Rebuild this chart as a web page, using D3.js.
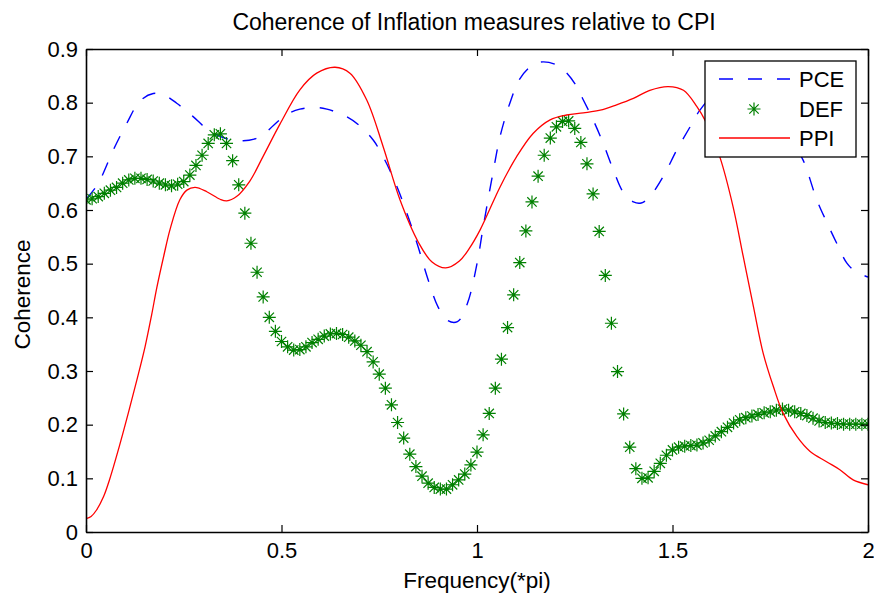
<!DOCTYPE html>
<html>
<head>
<meta charset="utf-8">
<script src="https://cdn.jsdelivr.net/npm/d3@7"></script>
<style>
html,body{margin:0;padding:0;background:#fff;}
svg text{font-family:"Liberation Sans",Arial,Helvetica,sans-serif;fill:#000;}
</style>
</head>
<body>
<svg id="chart" width="874" height="599"></svg>
<script>
// ---- data ----
const title = "Coherence of Inflation measures relative to CPI";
const xLabel = "Frequency(*pi)";
const yLabel = "Coherence";
const xTicks = [0, 0.5, 1, 1.5, 2];
const yTicks = [0, 0.1, 0.2, 0.3, 0.4, 0.5, 0.6, 0.7, 0.8, 0.9];
const seriesNames = ["PCE", "DEF", "PPI"];

const pceX = [0,0.03,0.07,0.104,0.138,0.172,0.2,0.232,0.274,0.309,0.34,0.37,0.402,0.43,0.453,0.48,0.513,0.547,0.59,0.616,0.667,0.7,0.735,0.76,0.777,0.8,0.825,0.85,0.875,0.9,0.925,0.95,0.975,1.0,1.016,1.042,1.059,1.084,1.11,1.144,1.169,1.204,1.23,1.255,1.272,1.297,1.323,1.349,1.374,1.4,1.42,1.442,1.476,1.511,1.545,1.57,1.62,1.67,1.72,1.77,1.8,1.834,1.869,1.894,1.92,1.946,1.967,2.0];
const pceY = [0.620,0.648,0.712,0.761,0.803,0.817,0.814,0.799,0.774,0.751,0.738,0.731,0.729,0.732,0.740,0.758,0.778,0.788,0.791,0.788,0.774,0.757,0.730,0.699,0.674,0.635,0.585,0.530,0.470,0.420,0.394,0.392,0.425,0.500,0.569,0.674,0.737,0.799,0.845,0.871,0.876,0.870,0.855,0.830,0.805,0.768,0.724,0.674,0.633,0.615,0.613,0.625,0.662,0.712,0.755,0.786,0.825,0.835,0.815,0.770,0.735,0.693,0.619,0.578,0.538,0.501,0.486,0.475];

const ppiX = [0,0.013,0.027,0.045,0.06,0.085,0.108,0.13,0.151,0.168,0.181,0.2,0.215,0.24,0.258,0.279,0.309,0.343,0.36,0.385,0.419,0.453,0.496,0.547,0.59,0.637,0.675,0.718,0.76,0.803,0.85,0.885,0.92,0.955,0.98,1.008,1.059,1.101,1.144,1.187,1.229,1.272,1.315,1.357,1.4,1.442,1.489,1.528,1.562,1.584,1.621,1.655,1.681,1.707,1.732,1.758,1.783,1.818,1.852,1.894,1.928,1.962,2.0];
const ppiY = [0.025,0.029,0.041,0.066,0.097,0.159,0.221,0.283,0.345,0.405,0.455,0.518,0.564,0.619,0.637,0.642,0.634,0.620,0.617,0.625,0.654,0.700,0.760,0.824,0.855,0.866,0.855,0.805,0.718,0.619,0.540,0.503,0.492,0.505,0.528,0.563,0.643,0.699,0.743,0.768,0.777,0.781,0.786,0.796,0.808,0.823,0.830,0.823,0.793,0.766,0.699,0.606,0.513,0.420,0.333,0.271,0.221,0.178,0.150,0.131,0.116,0.097,0.088];

// DEF sampled on the frequency grid 0, 1/64, ..., 2
const defY = [
0.619,0.621,0.625,0.631,0.637,0.642,0.650,0.656,0.659,0.659,
0.657,0.654,0.650,0.647,0.645,0.648,0.653,0.665,0.683,0.702,
0.724,0.740,0.742,0.724,0.692,0.647,0.594,0.538,0.484,0.438,
0.400,0.374,0.355,0.345,0.339,0.340,0.345,0.353,0.359,0.365,
0.369,0.370,0.368,0.363,0.356,0.348,0.336,0.317,0.294,0.268,
0.237,0.204,0.175,0.145,0.122,0.104,0.091,0.083,0.080,0.080,
0.088,0.097,0.108,0.125,0.149,0.181,0.221,0.268,0.322,0.381,
0.442,0.502,0.561,0.615,0.663,0.702,0.734,0.755,0.765,0.766,
0.752,0.726,0.686,0.630,0.560,0.478,0.389,0.299,0.220,0.158,
0.118,0.100,0.101,0.113,0.128,0.143,0.153,0.158,0.160,0.161,
0.162,0.166,0.171,0.179,0.187,0.195,0.203,0.209,0.213,0.216,
0.219,0.222,0.224,0.227,0.229,0.227,0.224,0.221,0.217,0.212,
0.207,0.204,0.203,0.202,0.201,0.201,0.201,0.201,0.201];
const defX = defY.map((d, i) => i * 2 / (defY.length - 1));

// ---- layout ----
const L = 86, R = 868, T = 49, B = 532;
const svg = d3.select("#chart");
const x = d3.scaleLinear().domain([0, 2]).range([L, R]);
const y = d3.scaleLinear().domain([0, 0.9]).range([B, T]);

const colors = {PCE: "#0000ff", DEF: "#008000", PPI: "#ff0000"};

svg.append("rect").attr("x", 0).attr("y", 0).attr("width", 874).attr("height", 599).attr("fill", "#fff");

const clipId = "plotclip";
svg.append("clipPath").attr("id", clipId).append("rect")
  .attr("x", L).attr("y", T).attr("width", R - L).attr("height", B - T);

const plot = svg.append("g").attr("clip-path", `url(#${clipId})`);

const lineGen = d3.line().x(d => x(d[0])).y(d => y(d[1])).curve(d3.curveCatmullRom.alpha(0.5));

plot.append("path")
  .datum(pceX.map((v, i) => [v, pceY[i]]))
  .attr("d", lineGen)
  .attr("fill", "none").attr("stroke", colors.PCE).attr("stroke-width", 1.4)
  .attr("stroke-dasharray", "14,15");

// asterisk marker
function star(g, cx, cy, r, col) {
  const d = r * 0.72;
  const p = `M${cx - r},${cy}L${cx + r},${cy}M${cx},${cy - r}L${cx},${cy + r}` +
            `M${cx - d},${cy - d}L${cx + d},${cy + d}M${cx - d},${cy + d}L${cx + d},${cy - d}`;
  g.append("path").attr("d", p).attr("stroke", col).attr("stroke-width", 1.2).attr("fill", "none");
}
const defG = plot.append("g");
defX.forEach((fx, i) => star(defG, x(fx), y(defY[i]), 6.5, colors.DEF));

plot.append("path")
  .datum(ppiX.map((v, i) => [v, ppiY[i]]))
  .attr("d", lineGen)
  .attr("fill", "none").attr("stroke", colors.PPI).attr("stroke-width", 1.3);

// ---- axes ----
const axisStyle = g => {
  g.selectAll(".domain").attr("stroke", "#000").attr("stroke-width", 1.6);
  g.selectAll(".tick line").attr("stroke", "#000").attr("stroke-width", 1.2);
  g.selectAll("text").attr("font-size", 22).attr("fill", "#000")
    .attr("font-family", "'Liberation Sans',Arial,Helvetica,sans-serif");
};
const fmt = d => d === 0 ? "0" : d3.format("")(+d.toFixed(2));

svg.append("g").attr("transform", `translate(0,${B})`)
  .call(d3.axisBottom(x).tickValues(xTicks).tickFormat(fmt).tickSizeInner(-7).tickSizeOuter(0).tickPadding(10))
  .call(axisStyle);
svg.append("g").attr("transform", `translate(0,${T})`)
  .call(d3.axisTop(x).tickValues(xTicks).tickFormat("").tickSizeInner(-7).tickSizeOuter(0))
  .call(axisStyle);
svg.append("g").attr("transform", `translate(${L},0)`)
  .call(d3.axisLeft(y).tickValues(yTicks).tickFormat(fmt).tickSizeInner(-7).tickSizeOuter(0).tickPadding(8))
  .call(axisStyle);
svg.append("g").attr("transform", `translate(${R},0)`)
  .call(d3.axisRight(y).tickValues(yTicks).tickFormat("").tickSizeInner(-7).tickSizeOuter(0))
  .call(axisStyle);

// ---- text ----
svg.append("text").attr("x", 474).attr("y", 30).attr("text-anchor", "middle")
  .attr("font-size", 23).text(title);
svg.append("text").attr("x", (L + R) / 2).attr("y", 588).attr("text-anchor", "middle")
  .attr("font-size", 22.5).text(xLabel);
svg.append("text").attr("transform", `translate(30,${(T + B) / 2 + 4}) rotate(-90)`)
  .attr("text-anchor", "middle").attr("font-size", 22.5).text(yLabel);

// ---- legend ----
const lg = svg.append("g");
lg.append("rect").attr("x", 705).attr("y", 61).attr("width", 151).attr("height", 96)
  .attr("fill", "#fff").attr("stroke", "#000").attr("stroke-width", 1.3);
const rowsY = [79, 109, 138];
seriesNames.forEach((name, i) => {
  const yy = rowsY[i];
  if (name === "PCE") {
    lg.append("line").attr("x1", 719).attr("x2", 790).attr("y1", yy).attr("y2", yy)
      .attr("stroke", colors.PCE).attr("stroke-width", 1.4).attr("stroke-dasharray", "14,15");
  } else if (name === "DEF") {
    star(lg, 754, yy, 6.5, colors.DEF);
  } else {
    lg.append("line").attr("x1", 719).attr("x2", 790).attr("y1", yy).attr("y2", yy)
      .attr("stroke", colors.PPI).attr("stroke-width", 1.3);
  }
  lg.append("text").attr("x", 799).attr("y", yy).attr("dy", "0.35em")
    .attr("font-size", 22).text(name);
});
</script>
</body>
</html>
